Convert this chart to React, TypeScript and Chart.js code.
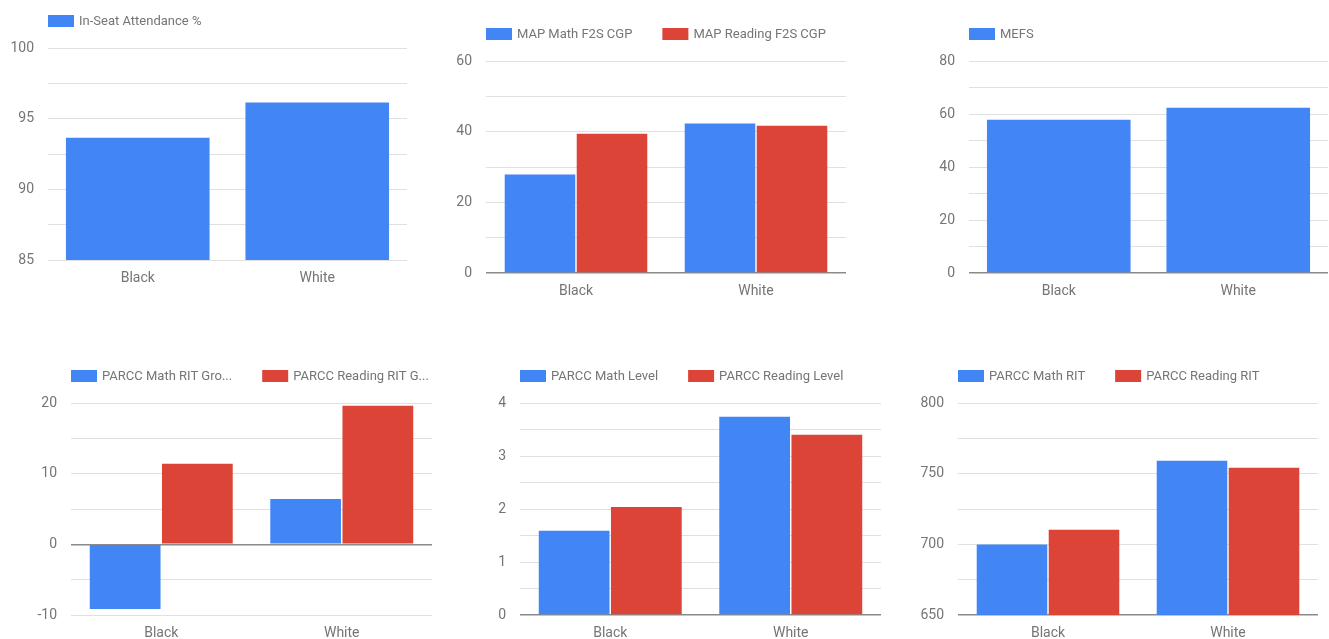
import React, { useEffect, useRef } from "react";
import { Chart, registerables } from "chart.js";

Chart.register(...registerables);

// ---------- data ----------
const groups = ["Black", "White"];

const attendance = [93.65, 96.15];
const attendanceTicks = [85, 90, 95, 100];

const mapMath = [27.9, 42.3];
const mapReading = [39.4, 41.7];
const mapTicks = [0, 20, 40, 60];

const mefs = [57.8, 62.4];
const mefsTicks = [0, 20, 40, 60, 80];

const parccMathGrowth = [-9.15, 6.4];
const parccReadingGrowth = [11.4, 19.6];
const growthTicks = [-10, 0, 10, 20];

const parccMathLevel = [1.59, 3.74];
const parccReadingLevel = [2.04, 3.4];
const levelTicks = [0, 1, 2, 3, 4];

const parccMathRit = [699.9, 759.2];
const parccReadingRit = [710.4, 754.2];
const ritTicks = [650, 700, 750, 800];

// ---------- style ----------
const BLUE = "#4285F4";
const RED = "#DB4437";
const TEXT = "#757575";
const GRID = "#e0e0e0";
const BASE = "#8a8a8a";
const FONT = "Roboto";

type Series = { label: string; data: number[]; color: string };
type PanelCfg = {
  left: number;
  top: number;
  right: number;
  bottom: number;
  min: number;
  max: number;
  step: number;
  ticks: number[];
  baseline: number | null;
  padRight: number;
  series: Series[];
};

const panels: PanelCfg[] = [
  {
    left: 48, top: 48, right: 407, bottom: 260,
    min: 85, max: 100, step: 2.5, ticks: attendanceTicks, baseline: null, padRight: 4,
    series: [{ label: "In-Seat Attendance %", data: attendance, color: BLUE }],
  },
  {
    left: 486, top: 61, right: 846, bottom: 273,
    min: 0, max: 60, step: 10, ticks: mapTicks, baseline: 0, padRight: 4,
    series: [
      { label: "MAP Math F2S CGP", data: mapMath, color: BLUE },
      { label: "MAP Reading F2S CGP", data: mapReading, color: RED },
    ],
  },
  {
    left: 969, top: 61, right: 1328, bottom: 273,
    min: 0, max: 80, step: 10, ticks: mefsTicks, baseline: 0, padRight: 1,
    series: [{ label: "MEFS", data: mefs, color: BLUE }],
  },
  {
    left: 71, top: 403, right: 432, bottom: 615,
    min: -10, max: 20, step: 5, ticks: growthTicks, baseline: 0, padRight: 4,
    series: [
      { label: "PARCC Math RIT Gro...", data: parccMathGrowth, color: BLUE },
      { label: "PARCC Reading RIT G...", data: parccReadingGrowth, color: RED },
    ],
  },
  {
    left: 520, top: 403, right: 881, bottom: 615,
    min: 0, max: 4, step: 0.5, ticks: levelTicks, baseline: 0, padRight: 4,
    series: [
      { label: "PARCC Math Level", data: parccMathLevel, color: BLUE },
      { label: "PARCC Reading Level", data: parccReadingLevel, color: RED },
    ],
  },
  {
    left: 958, top: 403, right: 1318, bottom: 615,
    min: 650, max: 800, step: 25, ticks: ritTicks, baseline: 650, padRight: 4,
    series: [
      { label: "PARCC Math RIT", data: parccMathRit, color: BLUE },
      { label: "PARCC Reading RIT", data: parccReadingRit, color: RED },
    ],
  },
];

const PAD_L = 50;
const PAD_T = 48;
const PAD_B = 30;

const topLegend = {
  id: "topLegend",
  afterDraw(chart: any) {
    const { ctx, chartArea } = chart;
    ctx.save();
    ctx.font = `13px ${FONT}`;
    ctx.textBaseline = "middle";
    ctx.textAlign = "left";
    let x = chartArea.left;
    const cy = chartArea.top - 27;
    chart.data.datasets.forEach((ds: any) => {
      ctx.fillStyle = ds.backgroundColor;
      ctx.fillRect(x, cy - 6, 26, 12);
      ctx.fillStyle = TEXT;
      ctx.fillText(ds.label, x + 31, cy + 1);
      x += 31 + ctx.measureText(ds.label).width + 30;
    });
    ctx.restore();
  },
};

function Panel({ cfg }: { cfg: PanelCfg }) {
  const ref = useRef<HTMLCanvasElement>(null);
  const w = cfg.right - cfg.left + PAD_L + cfg.padRight;
  const h = cfg.bottom - cfg.top + PAD_T + PAD_B;

  useEffect(() => {
    if (!ref.current) return;
    const multi = cfg.series.length > 1;
    const isBase = (v: number) => cfg.baseline !== null && Math.abs(v - cfg.baseline) < 1e-9;
    const chart = new Chart(ref.current, {
      type: "bar",
      data: {
        labels: groups,
        datasets: cfg.series.map((s) => ({
          label: s.label,
          data: s.data,
          backgroundColor: s.color,
          borderWidth: 0,
          barPercentage: multi ? 0.98 : 1,
          categoryPercentage: 0.8,
        })),
      },
      options: {
        animation: false,
        responsive: false,
        devicePixelRatio: 1,
        layout: { padding: { top: PAD_T, right: cfg.padRight, left: 0, bottom: 0 } },
        plugins: {
          legend: { display: false },
          tooltip: { enabled: false },
        },
        scales: {
          x: {
            grid: { display: false, drawTicks: false },
            border: { display: false },
            ticks: { color: TEXT, font: { family: FONT, size: 14 }, padding: 10 },
            afterFit: (s: any) => {
              s.height = PAD_B;
            },
          },
          y: {
            min: cfg.min,
            max: cfg.max,
            grid: {
              drawTicks: false,
              color: (c: any) => (c.tick && isBase(c.tick.value) ? BASE : GRID),
              lineWidth: (c: any) => (c.tick && isBase(c.tick.value) ? 1.5 : 1),
            },
            border: { display: false },
            ticks: {
              stepSize: cfg.step,
              padding: 14,
              color: TEXT,
              font: { family: FONT, size: 14 },
              autoSkip: false,
              callback: (v: any) =>
                cfg.ticks.some((t) => Math.abs(t - Number(v)) < 1e-6) ? String(Math.round(Number(v))) : "",
            },
            afterFit: (s: any) => {
              s.width = PAD_L;
            },
          },
        },
      } as any,
      plugins: [topLegend],
    });
    return () => chart.destroy();
  }, []);

  return (
    <div
      style={{
        position: "absolute",
        left: cfg.left - PAD_L,
        top: cfg.top - PAD_T,
        width: w,
        height: h,
      }}
    >
      <canvas ref={ref} width={w} height={h} style={{ width: w, height: h, display: "block" }} />
    </div>
  );
}

export default function App() {
  return (
    <div
      style={{
        position: "absolute",
        left: 0,
        top: 0,
        width: 1329,
        height: 639,
        overflow: "hidden",
        background: "#ffffff",
      }}
    >
      {panels.map((p, i) => (
        <Panel key={i} cfg={p} />
      ))}
    </div>
  );
}
